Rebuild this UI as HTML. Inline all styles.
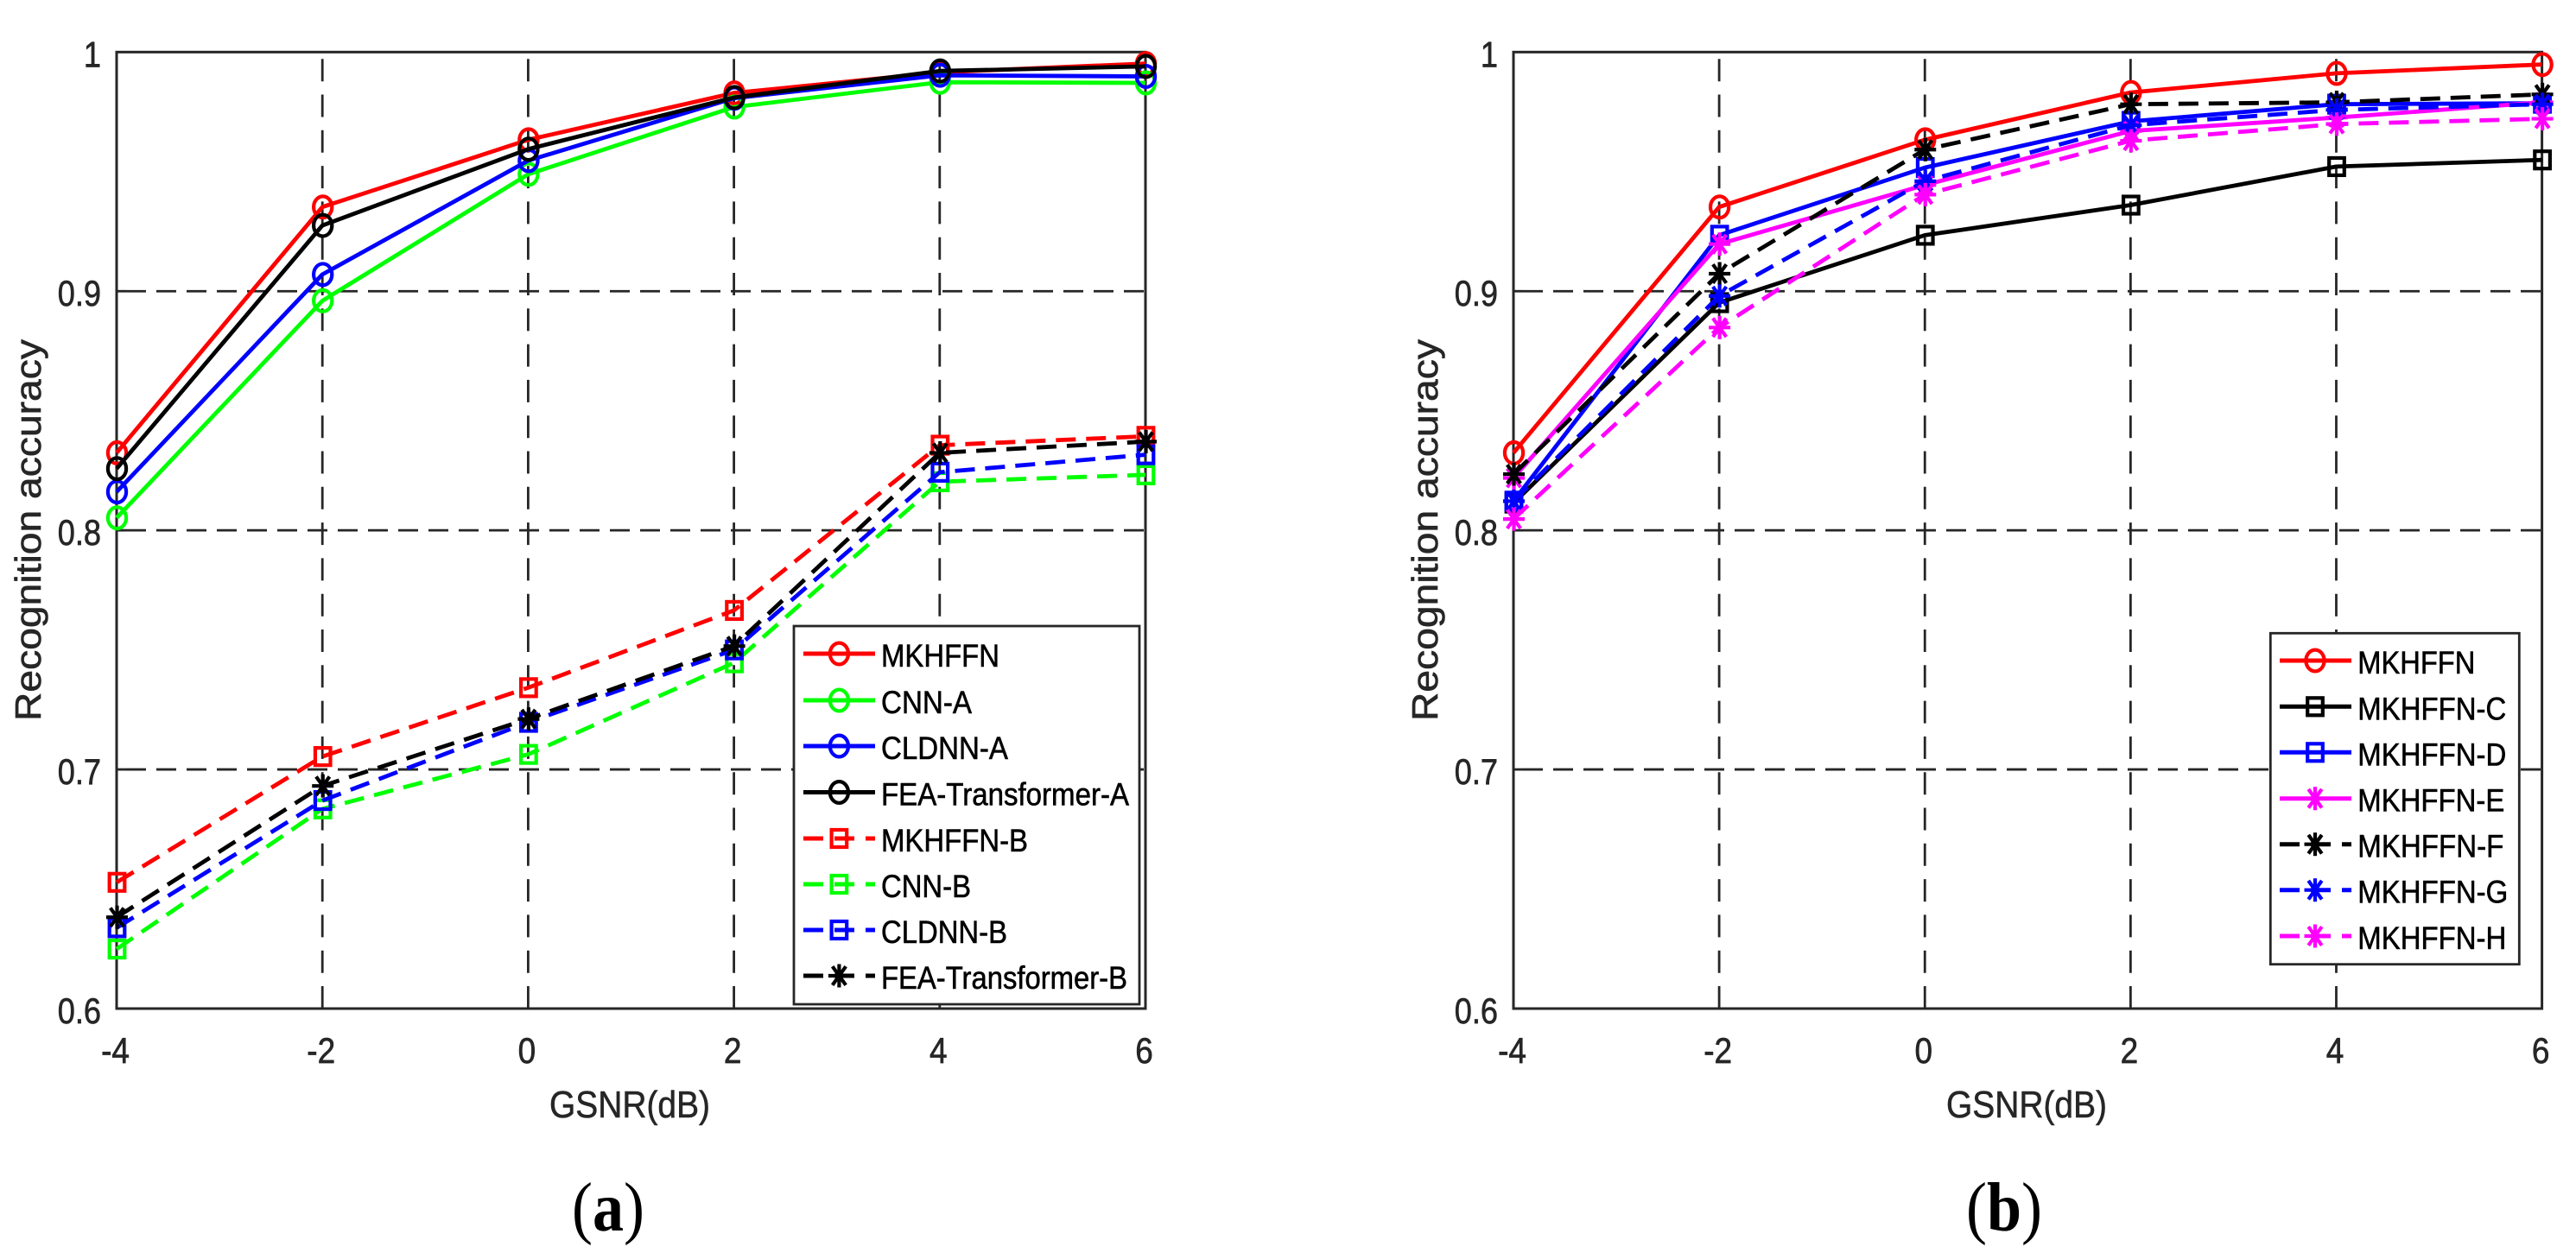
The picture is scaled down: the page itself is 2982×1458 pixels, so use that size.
<!DOCTYPE html>
<html lang="en">
<head>
<meta charset="utf-8">
<title>Recognition accuracy vs GSNR</title>
<style>
html,body{margin:0;padding:0;background:#fff;}
svg{display:block;}
text{font-family:"Liberation Sans",sans-serif;}
.tick{font-size:42px;fill:#262626;stroke:#262626;stroke-width:.7px;}
.axis-title{font-size:42px;fill:#262626;stroke:#262626;stroke-width:.6px;}
.legend-label{font-size:37px;fill:#000;stroke:#000;stroke-width:.6px;}
.caption{font-family:"Liberation Serif",serif;font-size:80px;fill:#000;}
</style>
</head>
<body>
<svg id="figure" xmlns="http://www.w3.org/2000/svg" width="2982" height="1458" viewBox="0 0 2982 1458">
  <rect x="0" y="0" width="2982" height="1458" fill="#fff"/>

  <g id="panel-a">
    <g id="a-plot"></g>
    <text class="axis-title" x="636" y="1294" style="font-size:44px" textLength="186" lengthAdjust="spacingAndGlyphs">GSNR(dB)</text>
    <text class="axis-title" transform="translate(47,835) rotate(-90)" textLength="442" lengthAdjust="spacingAndGlyphs">Recognition accuracy</text>
    <g id="a-legend">
      <rect x="919" y="725" width="400" height="438" fill="#fff" stroke="#262626" stroke-width="2.8"/>
      <g id="a-swatches"></g>
      <text class="legend-label" x="1020" y="772" textLength="137" lengthAdjust="spacingAndGlyphs">MKHFFN</text>
      <text class="legend-label" x="1020" y="826" textLength="105" lengthAdjust="spacingAndGlyphs">CNN-A</text>
      <text class="legend-label" x="1020" y="879" textLength="147" lengthAdjust="spacingAndGlyphs">CLDNN-A</text>
      <text class="legend-label" x="1020" y="932.5" textLength="287" lengthAdjust="spacingAndGlyphs">FEA-Transformer-A</text>
      <text class="legend-label" x="1020" y="986" textLength="170" lengthAdjust="spacingAndGlyphs">MKHFFN-B</text>
      <text class="legend-label" x="1020" y="1039" textLength="104" lengthAdjust="spacingAndGlyphs">CNN-B</text>
      <text class="legend-label" x="1020" y="1092" textLength="146" lengthAdjust="spacingAndGlyphs">CLDNN-B</text>
      <text class="legend-label" x="1020" y="1145" textLength="285" lengthAdjust="spacingAndGlyphs">FEA-Transformer-B</text>
    </g>
    <text class="caption" transform="translate(662,1425) scale(.9,1)">(<tspan font-weight="bold">a</tspan>)</text>
  </g>

  <g id="panel-b">
    <g id="b-plot"></g>
    <text class="axis-title" x="2253" y="1294" style="font-size:44px" textLength="186" lengthAdjust="spacingAndGlyphs">GSNR(dB)</text>
    <text class="axis-title" transform="translate(1664,835) rotate(-90)" textLength="442" lengthAdjust="spacingAndGlyphs">Recognition accuracy</text>
    <g id="b-legend">
      <rect x="2628.3" y="733.3" width="288" height="383.4" fill="#fff" stroke="#262626" stroke-width="2.8"/>
      <g id="b-swatches"></g>
      <text class="legend-label" x="2729.3" y="780" textLength="136" lengthAdjust="spacingAndGlyphs">MKHFFN</text>
      <text class="legend-label" x="2729.3" y="833.3" textLength="172" lengthAdjust="spacingAndGlyphs">MKHFFN-C</text>
      <text class="legend-label" x="2729.3" y="886.3" textLength="172" lengthAdjust="spacingAndGlyphs">MKHFFN-D</text>
      <text class="legend-label" x="2729.3" y="939.7" textLength="170" lengthAdjust="spacingAndGlyphs">MKHFFN-E</text>
      <text class="legend-label" x="2729.3" y="992.7" textLength="169" lengthAdjust="spacingAndGlyphs">MKHFFN-F</text>
      <text class="legend-label" x="2729.3" y="1045.7" textLength="174" lengthAdjust="spacingAndGlyphs">MKHFFN-G</text>
      <text class="legend-label" x="2729.3" y="1099" textLength="172" lengthAdjust="spacingAndGlyphs">MKHFFN-H</text>
    </g>
    <text class="caption" transform="translate(2276,1425) scale(.9,1)">(<tspan font-weight="bold">b</tspan>)</text>
  </g>
</svg>

<script>
// Shared axes data
const gsnrCategories = [-4, -2, 0, 2, 4, 6];
const xTickLabels = ['-4', '-2', '0', '2', '4', '6'];
const yTickValues = [0.6, 0.7, 0.8, 0.9, 1];
const yTickLabels = ['0.6', '0.7', '0.8', '0.9', '1'];

// Panel (a) series values
const mkhffn = [0.8324, 0.9352, 0.9633, 0.9829, 0.9915, 0.9952];
const cnnA = [0.8052, 0.8960, 0.9489, 0.9770, 0.9874, 0.9871];
const cldnnA = [0.8161, 0.9070, 0.9546, 0.9807, 0.9903, 0.9898];
const feaTransformerA = [0.8258, 0.9275, 0.9594, 0.9810, 0.9921, 0.9940];
const mkhffnB = [0.6528, 0.7054, 0.7342, 0.7665, 0.8356, 0.8393];
const cnnB = [0.6249, 0.6835, 0.7063, 0.7446, 0.8203, 0.8232];
const cldnnB = [0.6338, 0.6870, 0.7197, 0.7500, 0.8243, 0.8316];
const feaTransformerB = [0.6382, 0.6931, 0.7211, 0.7516, 0.8324, 0.8371];

// Panel (b) series values
const mkhffnFull = [0.8324, 0.9352, 0.9633, 0.9831, 0.9911, 0.9948];
const mkhffnC = [0.8114, 0.8952, 0.9234, 0.9360, 0.9521, 0.9549];
const mkhffnD = [0.8122, 0.9234, 0.9517, 0.9710, 0.9782, 0.9786];
const mkhffnE = [0.8219, 0.9197, 0.9444, 0.9670, 0.9726, 0.9790];
const mkhffnF = [0.8235, 0.9073, 0.9592, 0.9782, 0.9790, 0.9823];
const mkhffnG = [0.8122, 0.8980, 0.9460, 0.9694, 0.9758, 0.9782];
const mkhffnH = [0.8047, 0.8848, 0.9404, 0.9629, 0.9699, 0.9721];

const NS = 'http://www.w3.org/2000/svg';
const INK = '#262626';
const PLOT_TOP = 60.3;
const PLOT_BOTTOM = 1168;

function make(parent, tag, attrs) {
  const el = document.createElementNS(NS, tag);
  for (const k in attrs) el.setAttribute(k, attrs[k]);
  parent.appendChild(el);
  return el;
}

function xAxis(panel, v) {
  return panel.left + (v - gsnrCategories[0]) / (gsnrCategories[gsnrCategories.length - 1] - gsnrCategories[0]) * (panel.right - panel.left);
}

function yAxis(v) {
  return PLOT_BOTTOM - (v - yTickValues[0]) / (yTickValues[yTickValues.length - 1] - yTickValues[0]) * (PLOT_BOTTOM - PLOT_TOP);
}

function drawMarker(parent, kind, cx, cy, color, name) {
  const g = make(parent, 'g', {fill: 'none', stroke: color, 'stroke-width': 4.2});
  
  
  if (kind === 'circle') {
    make(g, 'ellipse', {cx: cx, cy: cy, rx: 10.6, ry: 12.4});
  } else if (kind === 'square') {
    make(g, 'rect', {x: cx - 8.8, y: cy - 10, width: 17.6, height: 20});
  } else {
    const rx = 12.5, ry = 13.5;
    make(g, 'line', {x1: cx - rx, y1: cy, x2: cx + rx, y2: cy});
    make(g, 'line', {x1: cx, y1: cy - ry, x2: cx, y2: cy + ry});
    make(g, 'line', {x1: cx - rx * 0.62, y1: cy - ry * 0.8, x2: cx + rx * 0.62, y2: cy + ry * 0.8});
    make(g, 'line', {x1: cx - rx * 0.62, y1: cy + ry * 0.8, x2: cx + rx * 0.62, y2: cy - ry * 0.8});
  }
  return g;
}

function drawFrame(root, panel) {
  const gridGroup = make(root, 'g', {stroke: INK, 'stroke-width': 2.8, fill: 'none'});
  
  

  yTickValues.forEach(function (v, i) {
    if (i === 0 || i === yTickValues.length - 1) return;
    const y = yAxis(v);
    const line = make(gridGroup, 'line', {x1: panel.left, y1: y, x2: panel.right, y2: y, 'stroke-dasharray': '23 12', 'stroke-dashoffset': 24});
    
    
    const stub = make(gridGroup, 'line', {x1: panel.left, y1: y, x2: panel.left + 11, y2: y});
    
    
  });

  gsnrCategories.forEach(function (v, i) {
    if (i === 0 || i === gsnrCategories.length - 1) return;
    const x = xAxis(panel, v);
    const line = make(gridGroup, 'line', {x1: x, y1: PLOT_BOTTOM, x2: x, y2: PLOT_TOP, 'stroke-dasharray': '26 15.3'});
    
    
  });

  const frame = make(root, 'rect', {x: panel.left, y: PLOT_TOP, width: panel.right - panel.left, height: PLOT_BOTTOM - PLOT_TOP, fill: 'none', stroke: INK, 'stroke-width': 3});
  
  

  yTickValues.forEach(function (v, i) {
    const t = make(root, 'text', {class: 'tick', 'text-anchor': 'end', transform: 'translate(' + (panel.left - 18) + ',' + (yAxis(v) + 17) + ') scale(.86,1)'});
    t.textContent = yTickLabels[i];
    
    
  });

  gsnrCategories.forEach(function (v, i) {
    const t = make(root, 'text', {class: 'tick', 'text-anchor': 'middle', transform: 'translate(' + (xAxis(panel, v) - 1.5) + ',1231) scale(.88,1)'});
    t.textContent = xTickLabels[i];
    
    
  });
}

function drawSeries(root, panel, series) {
  const g = make(root, 'g', {fill: 'none'});
  
  
  const pts = series.values.map(function (v, i) {
    return xAxis(panel, gsnrCategories[i]).toFixed(1) + ',' + yAxis(v).toFixed(1);
  }).join(' ');
  const attrs = {points: pts, stroke: series.color, 'stroke-width': 4.8, fill: 'none', 'stroke-linejoin': 'round'};
  if (series.dashed) attrs['stroke-dasharray'] = '23 12';
  const line = make(g, 'polyline', attrs);
  
  
  series.values.forEach(function (v, i) {
    drawMarker(g, series.marker, xAxis(panel, gsnrCategories[i]) + 0.5, yAxis(v), series.color, 'point-' + series.name);
  });
}

function drawSwatches(parent, legend, list) {
  list.forEach(function (series, i) {
    const y = legend.rows[i];
    const attrs = {x1: legend.x1, y1: y, x2: legend.x2, y2: y, stroke: series.color, 'stroke-width': 5};
    if (series.dashed) attrs['stroke-dasharray'] = '23 13';
    const line = make(parent, 'line', attrs);
    
    
    drawMarker(parent, series.marker, legend.mx, y, series.color, 'legend-marker-' + series.name);
  });
}

const panelA = {left: 135, right: 1326};
const panelB = {left: 1752, right: 2942.6};

const seriesA = [
  {name: 'mkhffn', values: mkhffn, color: '#ff0000', marker: 'circle', dashed: false},
  {name: 'cnn-a', values: cnnA, color: '#00ff00', marker: 'circle', dashed: false},
  {name: 'cldnn-a', values: cldnnA, color: '#0000ff', marker: 'circle', dashed: false},
  {name: 'fea-transformer-a', values: feaTransformerA, color: '#000000', marker: 'circle', dashed: false},
  {name: 'mkhffn-b', values: mkhffnB, color: '#ff0000', marker: 'square', dashed: true},
  {name: 'cnn-b', values: cnnB, color: '#00ff00', marker: 'square', dashed: true},
  {name: 'cldnn-b', values: cldnnB, color: '#0000ff', marker: 'square', dashed: true},
  {name: 'fea-transformer-b', values: feaTransformerB, color: '#000000', marker: 'star', dashed: true}
];

const seriesB = [
  {name: 'mkhffn', values: mkhffnFull, color: '#ff0000', marker: 'circle', dashed: false},
  {name: 'mkhffn-c', values: mkhffnC, color: '#000000', marker: 'square', dashed: false},
  {name: 'mkhffn-d', values: mkhffnD, color: '#0000ff', marker: 'square', dashed: false},
  {name: 'mkhffn-e', values: mkhffnE, color: '#ff00ff', marker: 'star', dashed: false},
  {name: 'mkhffn-f', values: mkhffnF, color: '#000000', marker: 'star', dashed: true},
  {name: 'mkhffn-g', values: mkhffnG, color: '#0000ff', marker: 'star', dashed: true},
  {name: 'mkhffn-h', values: mkhffnH, color: '#ff00ff', marker: 'star', dashed: true}
];

const aPlot = document.getElementById('a-plot');
const bPlot = document.getElementById('b-plot');
drawFrame(aPlot, panelA);
drawFrame(bPlot, panelB);
seriesA.forEach(function (s) { drawSeries(aPlot, panelA, s); });
seriesB.forEach(function (s) { drawSeries(bPlot, panelB, s); });

drawSwatches(document.getElementById('a-swatches'), {x1: 930, x2: 1013, mx: 971.4, rows: [757, 811, 864, 917.5, 971, 1024, 1077, 1130]}, seriesA);
drawSwatches(document.getElementById('b-swatches'), {x1: 2639, x2: 2722, mx: 2680, rows: [765, 818.3, 871.3, 924.7, 977.7, 1030.7, 1084]}, seriesB);
</script>
</body>
</html>
